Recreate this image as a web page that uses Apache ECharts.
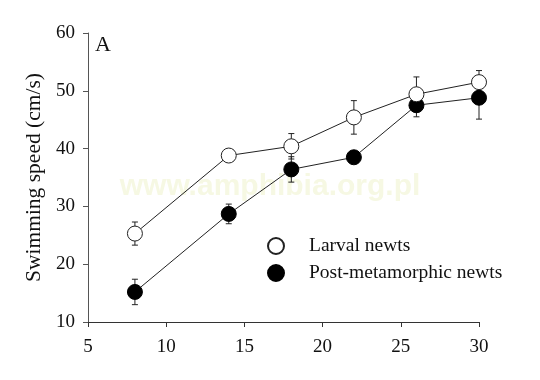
<!DOCTYPE html>
<html>
<head>
<meta charset="utf-8">
<script src="https://cdn.jsdelivr.net/npm/echarts@6/dist/echarts.min.js"></script>
<style>
  html, body { margin: 0; padding: 0; background: #fff; }
  #chart { width: 540px; height: 380px; }
</style>
</head>
<body>
<div id="chart"></div>
<script>
// temperature / x values
var xs = [8, 14, 18, 22, 26, 30];
// larval newts: mean and error
var larval = [25.3, 38.8, 40.4, 45.4, 49.4, 51.5];
var larvalErr = [2.0, 0.8, 2.2, 2.9, 3.0, 2.0];
// post-metamorphic newts
var post = [15.2, 28.7, 36.4, 38.5, 47.5, 48.8];
var postErr = [2.2, 1.7, 2.2, 0.5, 2.0, 3.7];

var serif = '"Liberation Serif", "DejaVu Serif", serif';

function pairs(ys) {
  return xs.map(function(x, i){ return [x, ys[i]]; });
}
function errData(ys, es) {
  return xs.map(function(x, i){ return [x, ys[i] - es[i], ys[i] + es[i]]; });
}

function renderErr(params, api) {
  var lo = api.coord([api.value(0), api.value(1)]);
  var hi = api.coord([api.value(0), api.value(2)]);
  var w = 3;
  var st = { stroke: '#222', lineWidth: 1 };
  return {
    type: 'group',
    children: [
      { type: 'line', shape: { x1: lo[0], y1: lo[1], x2: hi[0], y2: hi[1] }, style: st },
      { type: 'line', shape: { x1: lo[0] - w, y1: lo[1], x2: lo[0] + w, y2: lo[1] }, style: st },
      { type: 'line', shape: { x1: hi[0] - w, y1: hi[1], x2: hi[0] + w, y2: hi[1] }, style: st }
    ]
  };
}

var chart = echarts.init(document.getElementById('chart'));
chart.setOption({
  backgroundColor: '#fff',
  animation: false,
  grid: { left: 88, right: 61, top: 33, bottom: 58 },
  graphic: [
    {
      type: 'text', left: 95, top: 34,
      style: { text: 'A', font: '22px ' + serif, fill: '#111' }
    },
    {
      type: 'text', left: 'center', top: 172, z: 0,
      style: { text: 'www.amphibia.org.pl', font: 'bold 30px "Liberation Sans", Arial, sans-serif', fill: '#f6f8e3' }
    }
  ],
  legend: {
    orient: 'vertical',
    left: 262, top: 231,
    itemWidth: 16, itemHeight: 16, itemGap: 7,
    textStyle: { fontFamily: serif, fontSize: 19.5, color: '#111', padding: [0, 0, 0, 20] },
    data: [
      { name: 'Larval newts', icon: 'circle' },
      { name: 'Post-metamorphic newts', icon: 'circle' }
    ]
  },
  xAxis: {
    type: 'value', min: 5, max: 30, interval: 5,
    splitLine: { show: false },
    axisLine: { lineStyle: { color: '#333', width: 1 } },
    axisTick: { inside: false, length: 5, lineStyle: { color: '#333' } },
    axisLabel: { fontFamily: serif, fontSize: 19, color: '#111', margin: 16 }
  },
  yAxis: {
    type: 'value', min: 10, max: 60, interval: 10,
    name: 'Swimming speed (cm/s)',
    nameLocation: 'middle', nameGap: 37,
    nameTextStyle: { fontFamily: serif, fontSize: 21.5, color: '#111' },
    splitLine: { show: false },
    axisLine: { show: true, lineStyle: { color: '#555', width: 1 } },
    axisTick: { show: true, inside: false, length: 5, lineStyle: { color: '#555' } },
    axisLabel: { fontFamily: serif, fontSize: 19, color: '#111', margin: 13 }
  },
  series: [
    {
      type: 'custom', renderItem: renderErr, data: errData(larval, larvalErr), z: 1, silent: true
    },
    {
      type: 'custom', renderItem: renderErr, data: errData(post, postErr), z: 1, silent: true
    },
    {
      name: 'Post-metamorphic newts', type: 'line', data: pairs(post), z: 3,
      symbol: 'circle', symbolSize: 15,
      lineStyle: { color: '#222', width: 1 },
      itemStyle: { color: '#000', borderColor: '#000', borderWidth: 1 }
    },
    {
      name: 'Larval newts', type: 'line', data: pairs(larval), z: 4,
      symbol: 'circle', symbolSize: 15,
      lineStyle: { color: '#222', width: 1 },
      itemStyle: { color: '#fff', borderColor: '#222', borderWidth: 1 }
    }
  ]
});
</script>
</body>
</html>
